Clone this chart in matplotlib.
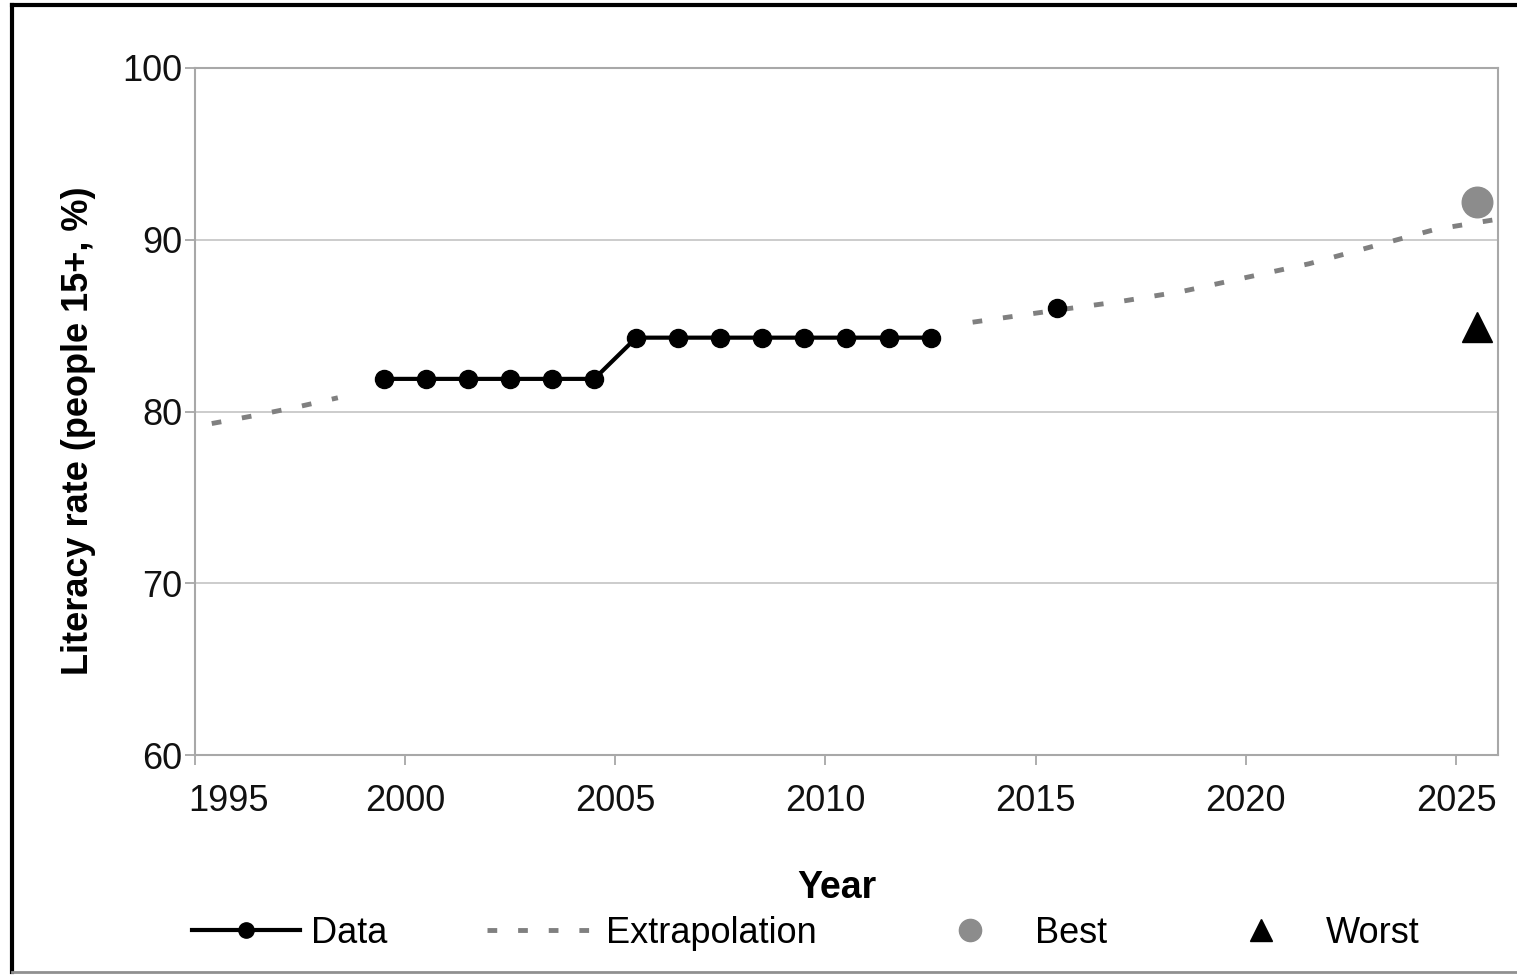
import numpy as np
import matplotlib
matplotlib.use("Agg")
import matplotlib.pyplot as plt
from matplotlib.lines import Line2D

plt.rcParams['font.family'] = ['Liberation Sans', 'DejaVu Sans']

# Observed data (NaN marks the gap before the 2015 point)
data_years = [1999.5, 2000.5, 2001.5, 2002.5, 2003.5, 2004.5, 2005.5, 2006.5,
              2007.5, 2008.5, 2009.5, 2010.5, 2011.5, 2012.5, 2013.5, 2014.5, 2015.5]
data_values = [81.9, 81.9, 81.9, 81.9, 81.9, 81.9, 84.3, 84.3,
               84.3, 84.3, 84.3, 84.3, 84.3, 84.3, np.nan, np.nan, 86.0]

# Extrapolation (before and after the data)
extra_years_early = [1995.4, 1996.5, 1997.5, 1998.4]
extra_values_early = [79.3, 79.8, 80.3, 80.8]
extra_years_late = [2013.5, 2015.5, 2017.0, 2018.5, 2020.0, 2021.5, 2023.0, 2024.5, 2026.0]
extra_values_late = [85.2, 85.9, 86.4, 87.0, 87.8, 88.6, 89.6, 90.6, 91.2]

# Scenarios
best_year, best_value = 2025.5, 92.2
worst_year, worst_value = 2025.5, 84.9

x_ticks = [1995, 2000, 2005, 2010, 2015, 2020, 2025]
y_ticks = [60, 70, 80, 90, 100]

GREY = '#808080'
DASH = (2, 4.3)

fig = plt.figure(figsize=(15.17, 9.77), dpi=100)
ax = fig.add_axes([0.1285, 0.2272, 0.859, 0.7032])

ax.plot(extra_years_early, extra_values_early, color=GREY, linewidth=3.5,
        dashes=DASH)
ax.plot(extra_years_late, extra_values_late, color=GREY, linewidth=3.5,
        dashes=DASH)
ax.plot(data_years, data_values, color='black', linewidth=3, marker='o',
        markersize=13, zorder=3)
ax.plot([best_year], [best_value], marker='o', color='#8c8c8c', markersize=22,
        linestyle='none', zorder=3)
ax.plot([worst_year], [worst_value], marker='^', color='black', markersize=21,
        linestyle='none', zorder=3)

ax.set_xlim(1995, 2026)
ax.set_ylim(60, 100)
ax.set_xticks(x_ticks)
ax.set_yticks(y_ticks)
ax.tick_params(axis='both', labelsize=26, color='#a0a0a0', length=7, width=1.2,
               labelcolor='#111111')
ax.tick_params(axis='x', pad=14)
ax.tick_params(axis='y', pad=2)
lab0 = ax.get_xticklabels()[0]
lab0.set_horizontalalignment('left')
lab0.set_transform(lab0.get_transform() +
                   matplotlib.transforms.ScaledTranslation(-0.07, 0, fig.dpi_scale_trans))

ax.grid(axis='y', color='#c8c8c8', linewidth=1.3)
ax.set_axisbelow(True)
for s in ax.spines.values():
    s.set_color('#a8a8a8')
    s.set_linewidth(1.5)

ax.set_ylabel('Literacy rate (people 15+, %)', fontsize=26, fontweight='bold')
ax.yaxis.set_label_coords(-0.076, 0.472)
ax.set_xlabel('Year', fontsize=27, fontweight='bold')
ax.xaxis.set_label_coords(0.493, -0.167)

handles = [
    Line2D([], [], color='black', linewidth=3, marker='o', markersize=11),
    Line2D([], [], color=GREY, linewidth=3.5, dashes=DASH),
    Line2D([], [], color='#8c8c8c', marker='o', markersize=16, linestyle='none'),
    Line2D([], [], color='black', marker='^', markersize=16, linestyle='none'),
]
fig.legend(handles, ['Data', 'Extrapolation', 'Best', 'Worst'], loc='center',
           bbox_to_anchor=(0.531, 0.045), ncol=4, frameon=False, fontsize=26,
           handlelength=3.0, handletextpad=0.3, columnspacing=2.75)

# figure frame
fig.add_artist(Line2D([0.0079, 1.0], [0.9949, 0.9949], color='black', linewidth=3,
                      transform=fig.transFigure))
fig.add_artist(Line2D([0.0079, 0.0079], [0.0051, 0.9949], color='black', linewidth=3,
                      transform=fig.transFigure))
fig.add_artist(Line2D([0.0079, 1.0], [0.0051, 0.0051], color='#909090', linewidth=2,
                      transform=fig.transFigure))

fig.savefig('out.png', dpi=100)
